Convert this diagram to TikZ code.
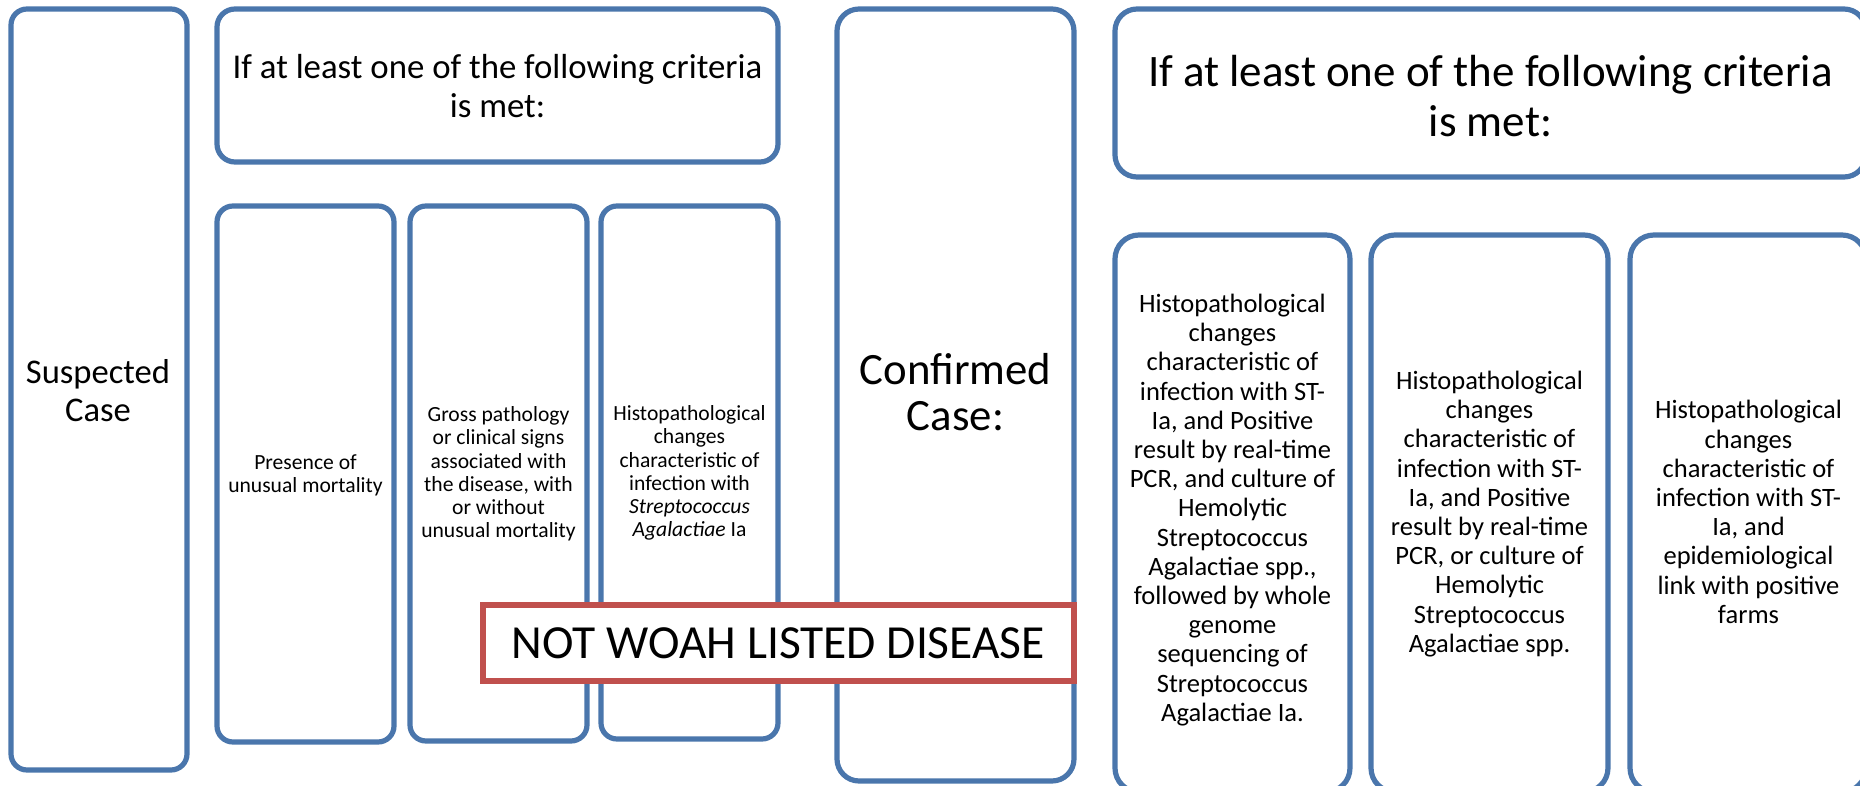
\documentclass[tikz,border=0pt]{standalone}
\usepackage{fontspec}
\setmainfont{Carlito}
\definecolor{boxblue}{RGB}{74,118,172}
\definecolor{woahred}{RGB}{192,80,77}
\tikzset{
  bluebox/.style={draw=boxblue, line width=2.6pt, fill=white},
  redbox/.style={draw=woahred, line width=2.8pt, fill=white},
  boxtext/.style={inner sep=0pt, align=center, text=black},
}
\begin{document}
\begin{tikzpicture}[x=0.5pt,y=0.5pt,yscale=-1,xscale=1]
\useasboundingbox (0,0) rectangle (1860,786);
\clip (0,0) rectangle (1860,786);

%Shape: Rounded Rect (suspected)
\draw [bluebox, rounded corners=8pt] (11,9) rectangle (187,770);
%Shape: Rounded Rect (left header)
\draw [bluebox, rounded corners=9pt] (217,9) rectangle (778,162);
%Shape: Rounded Rect (left criteria)
\draw [bluebox, rounded corners=8pt] (217,206) rectangle (394,742);
\draw [bluebox, rounded corners=8pt] (410,206) rectangle (587,741);
\draw [bluebox, rounded corners=8pt] (601,206) rectangle (778,739);
%Shape: Rounded Rect (confirmed)
\draw [bluebox, rounded corners=11pt] (837,9) rectangle (1074,781);
%Shape: Rounded Rect (right header)
\draw [bluebox, rounded corners=11pt] (1115,9) rectangle (1866,177);
%Shape: Rounded Rect (right criteria)
\draw [bluebox, rounded corners=12pt] (1115,235) rectangle (1350,792);
\draw [bluebox, rounded corners=12pt] (1371,235) rectangle (1608,792);
\draw [bluebox, rounded corners=12pt] (1630,235) rectangle (1866,792);
%Shape: Rectangle (not listed)
\draw [redbox] (483,605) rectangle (1074,681);

% Text Node
\draw (98,391) node [boxtext, font=\fontsize{17.3}{19}\selectfont] (suspected) {Suspected\\Case};
% Text Node
\draw (497.5,86) node [boxtext, font=\fontsize{17.4}{19.1}\selectfont] (critL) {If at least one of the following criteria\\is met:};
% Text Node
\draw (305.5,475) node [boxtext, font=\fontsize{10.8}{11.6}\selectfont] (mortality) {Presence of\\unusual mortality};
% Text Node
\draw (498.5,474) node [boxtext, font=\fontsize{10.8}{11.6}\selectfont] (gross) {Gross pathology\\or clinical signs\\associated with\\the disease, with\\or without\\unusual mortality};
% Text Node
\draw (689.5,473) node [boxtext, font=\fontsize{10.8}{11.6}\selectfont] (histoL) {Histopathological\\changes\\characteristic of\\infection with\\\textit{Streptococcus}\\\textit{Agalactiae} Ia};
% Text Node
\draw (955.5,392) node [boxtext, font=\fontsize{22.4}{23}\selectfont] (confirmed) {Confirmed\\Case:};
% Text Node
\draw (1490.5,96) node [boxtext, font=\fontsize{22.5}{25}\selectfont] (critR) {If at least one of the following criteria\\is met:};
% Text Node
\draw (1232.5,510) node [boxtext, font=\fontsize{13.25}{14.6}\selectfont] (wgs) {Histopathological\\changes\\characteristic of\\infection with ST-\\Ia, and Positive\\result by real-time\\PCR, and culture of\\Hemolytic\\Streptococcus\\Agalactiae spp.,\\followed by whole\\genome\\sequencing of\\Streptococcus\\Agalactiae Ia.};
% Text Node
\draw (1489.5,514) node [boxtext, font=\fontsize{13.25}{14.6}\selectfont] (pcr) {Histopathological\\changes\\characteristic of\\infection with ST-\\Ia, and Positive\\result by real-time\\PCR, or culture of\\Hemolytic\\Streptococcus\\Agalactiae spp.};
% Text Node
\draw (1748.5,512) node [boxtext, font=\fontsize{13.25}{14.6}\selectfont] (epi) {Histopathological\\changes\\characteristic of\\infection with ST-\\Ia, and\\epidemiological\\link with positive\\farms};
% Text Node
\draw (778.5,643) node [boxtext, font=\fontsize{23.75}{26}\selectfont] (notlisted) {NOT WOAH LISTED DISEASE};

\end{tikzpicture}
\end{document}
